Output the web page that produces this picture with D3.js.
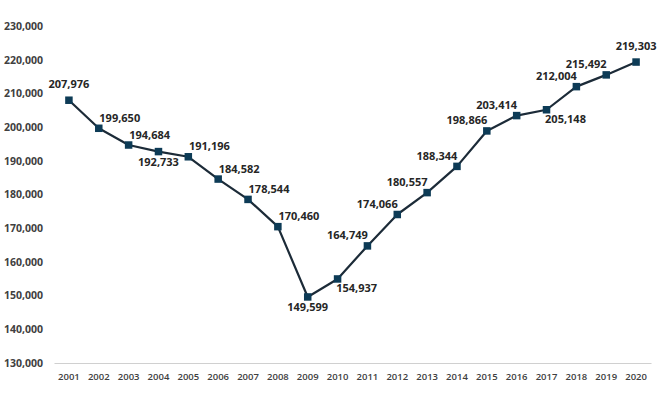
<!DOCTYPE html>
<html>
<head>
<meta charset="utf-8">
<script src="https://cdn.jsdelivr.net/npm/d3@7"></script>
<style>
  html, body { margin: 0; padding: 0; background: #fff; }
  svg { display: block; font-family: "Open Sans", "Noto Sans", sans-serif; }
</style>
</head>
<body>
<svg id="chart" width="671" height="394"></svg>
<script>
const years = ["2001","2002","2003","2004","2005","2006","2007","2008","2009","2010",
               "2011","2012","2013","2014","2015","2016","2017","2018","2019","2020"];
const values = [207976,199650,194684,192733,191196,184582,178544,170460,149599,154937,
                164749,174066,180557,188344,198866,203414,205148,212004,215492,219303];
const yTicks = [130000,140000,150000,160000,170000,180000,190000,200000,210000,220000,230000];
const labelPlacement = ["above","aboveRight","aboveRight","below","aboveRight","aboveRight","aboveRight","aboveRight","below","belowRight",
                        "aboveLeft","aboveLeft","aboveLeft","aboveLeft","aboveLeft","aboveLeft","belowRight","aboveLeft","aboveLeft","above"];

const placeOffset = {
  above: [0, -17],
  aboveRight: [21, -11],
  aboveLeft: [-20, -11],
  below: [0, 10],
  belowRight: [19, 9]
};

const svg = d3.select("#chart");
const margin = {left: 54, right: 20, top: 26, bottom: 31};
const W = 671, H = 394;

const x = d3.scaleBand().domain(years).range([margin.left, W - margin.right]);
const y = d3.scaleLinear().domain([130000, 230000]).range([H - margin.bottom, margin.top]);
const fmt = d3.format(",");

// Y axis labels
const yAxis = d3.axisLeft(y).tickValues(yTicks).tickFormat(fmt).tickSize(0).tickPadding(0);
const gy = svg.append("g").attr("transform", `translate(43,0)`).call(yAxis);
gy.select(".domain").remove();
gy.selectAll("text")
  .attr("font-family", "'Open Sans', sans-serif")
  .attr("font-size", "10.5px").attr("font-weight", "bold").attr("fill", "#404040");

// X axis
const xAxis = d3.axisBottom(x).tickSize(0).tickPadding(10);
const gx = svg.append("g").attr("transform", `translate(0,${y(130000)})`).call(xAxis);
gx.select(".domain").attr("stroke", "#d0d0d0").attr("stroke-width", 1.2);
gx.selectAll("text")
  .attr("font-family", "'Open Sans', sans-serif")
  .attr("font-size", "9.5px").attr("font-weight", "600").attr("fill", "#404040");

const cx = d => x(d) + x.bandwidth() / 2;

// Line
const line = d3.line().x((d, i) => cx(years[i])).y(d => y(d));
svg.append("path").datum(values)
  .attr("d", line).attr("fill", "none")
  .attr("stroke", "#1c2b38").attr("stroke-width", 2.2).attr("stroke-linejoin", "round");

// Markers
const ms = 7.5;
svg.append("g").selectAll("rect").data(values).join("rect")
  .attr("x", (d, i) => cx(years[i]) - ms / 2)
  .attr("y", d => y(d) - ms / 2)
  .attr("width", ms).attr("height", ms)
  .attr("fill", "#0d3b56");

// Labels
svg.append("g").selectAll("text").data(values).join("text")
  .attr("x", (d, i) => cx(years[i]) + placeOffset[labelPlacement[i]][0])
  .attr("y", (d, i) => y(d) + placeOffset[labelPlacement[i]][1])
  .attr("text-anchor", "middle").attr("dominant-baseline", "central")
  .attr("font-size", "11px").attr("font-weight", "bold").attr("fill", "#262626")
  .text(d => fmt(d));
</script>
</body>
</html>
